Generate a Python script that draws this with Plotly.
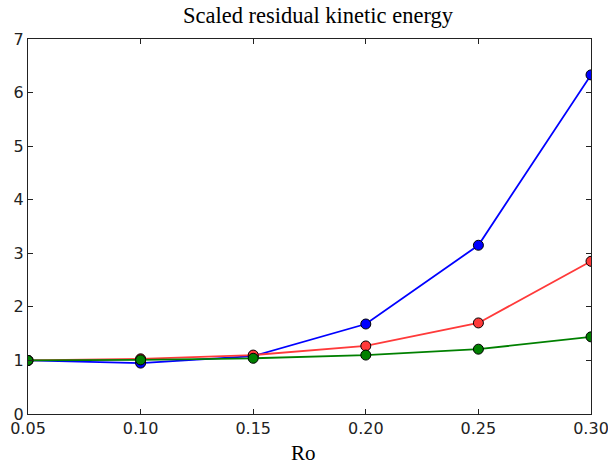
import plotly.graph_objects as go

ro = [0.05, 0.10, 0.15, 0.20, 0.25, 0.30]
blue_vals = [1.0, 0.95, 1.08, 1.68, 3.15, 6.33]
red_vals = [1.0, 1.03, 1.10, 1.27, 1.70, 2.85]
green_vals = [1.0, 1.01, 1.04, 1.10, 1.21, 1.44]
x_ticks = [0.05, 0.10, 0.15, 0.20, 0.25, 0.30]
x_tick_labels = ["0.05", "0.10", "0.15", "0.20", "0.25", "0.30"]
y_ticks = [0, 1, 2, 3, 4, 5, 6, 7]

fig = go.Figure()
for vals, col in [(blue_vals, "#0000ff"), (red_vals, "#ff3a3a"), (green_vals, "#008000")]:
    fig.add_trace(go.Scatter(
        x=ro, y=vals, mode="lines+markers",
        line=dict(color=col, width=1.8),
        marker=dict(color=col, size=10, line=dict(color="black", width=1)),
        cliponaxis=True, showlegend=False,
    ))

axis_common = dict(
    showgrid=False, zeroline=False, showline=True, linecolor="#222", linewidth=1.3,
    mirror="allticks", ticks="inside", ticklen=5, tickcolor="#222", automargin=False,
    ticklabeloverflow="allow",
    tickfont=dict(family="DejaVu Sans", size=16, color="#222"),
)
fig.update_xaxes(range=[0.05, 0.30], tickvals=x_ticks, ticktext=x_tick_labels, **axis_common)
fig.update_yaxes(range=[0, 7], tickvals=y_ticks, **axis_common)

fig.add_annotation(text="Ro", xref="paper", yref="paper", x=0.49, y=-0.067,
                   xanchor="center", yanchor="top", showarrow=False,
                   font=dict(family="Liberation Serif", size=21, color="black"))

fig.update_layout(
    width=608, height=467,
    margin=dict(l=28, r=17, t=39, b=53),
    paper_bgcolor="white", plot_bgcolor="white",
    title=dict(text="Scaled residual kinetic energy", x=0.523, xanchor="center",
               y=0.967, yanchor="middle",
               font=dict(family="Liberation Serif", size=22.5, color="black")),
)
fig.write_html("out.html", config={"displayModeBar": False},
               post_script="document.body.style.margin='0';document.body.style.overflow='hidden';")
